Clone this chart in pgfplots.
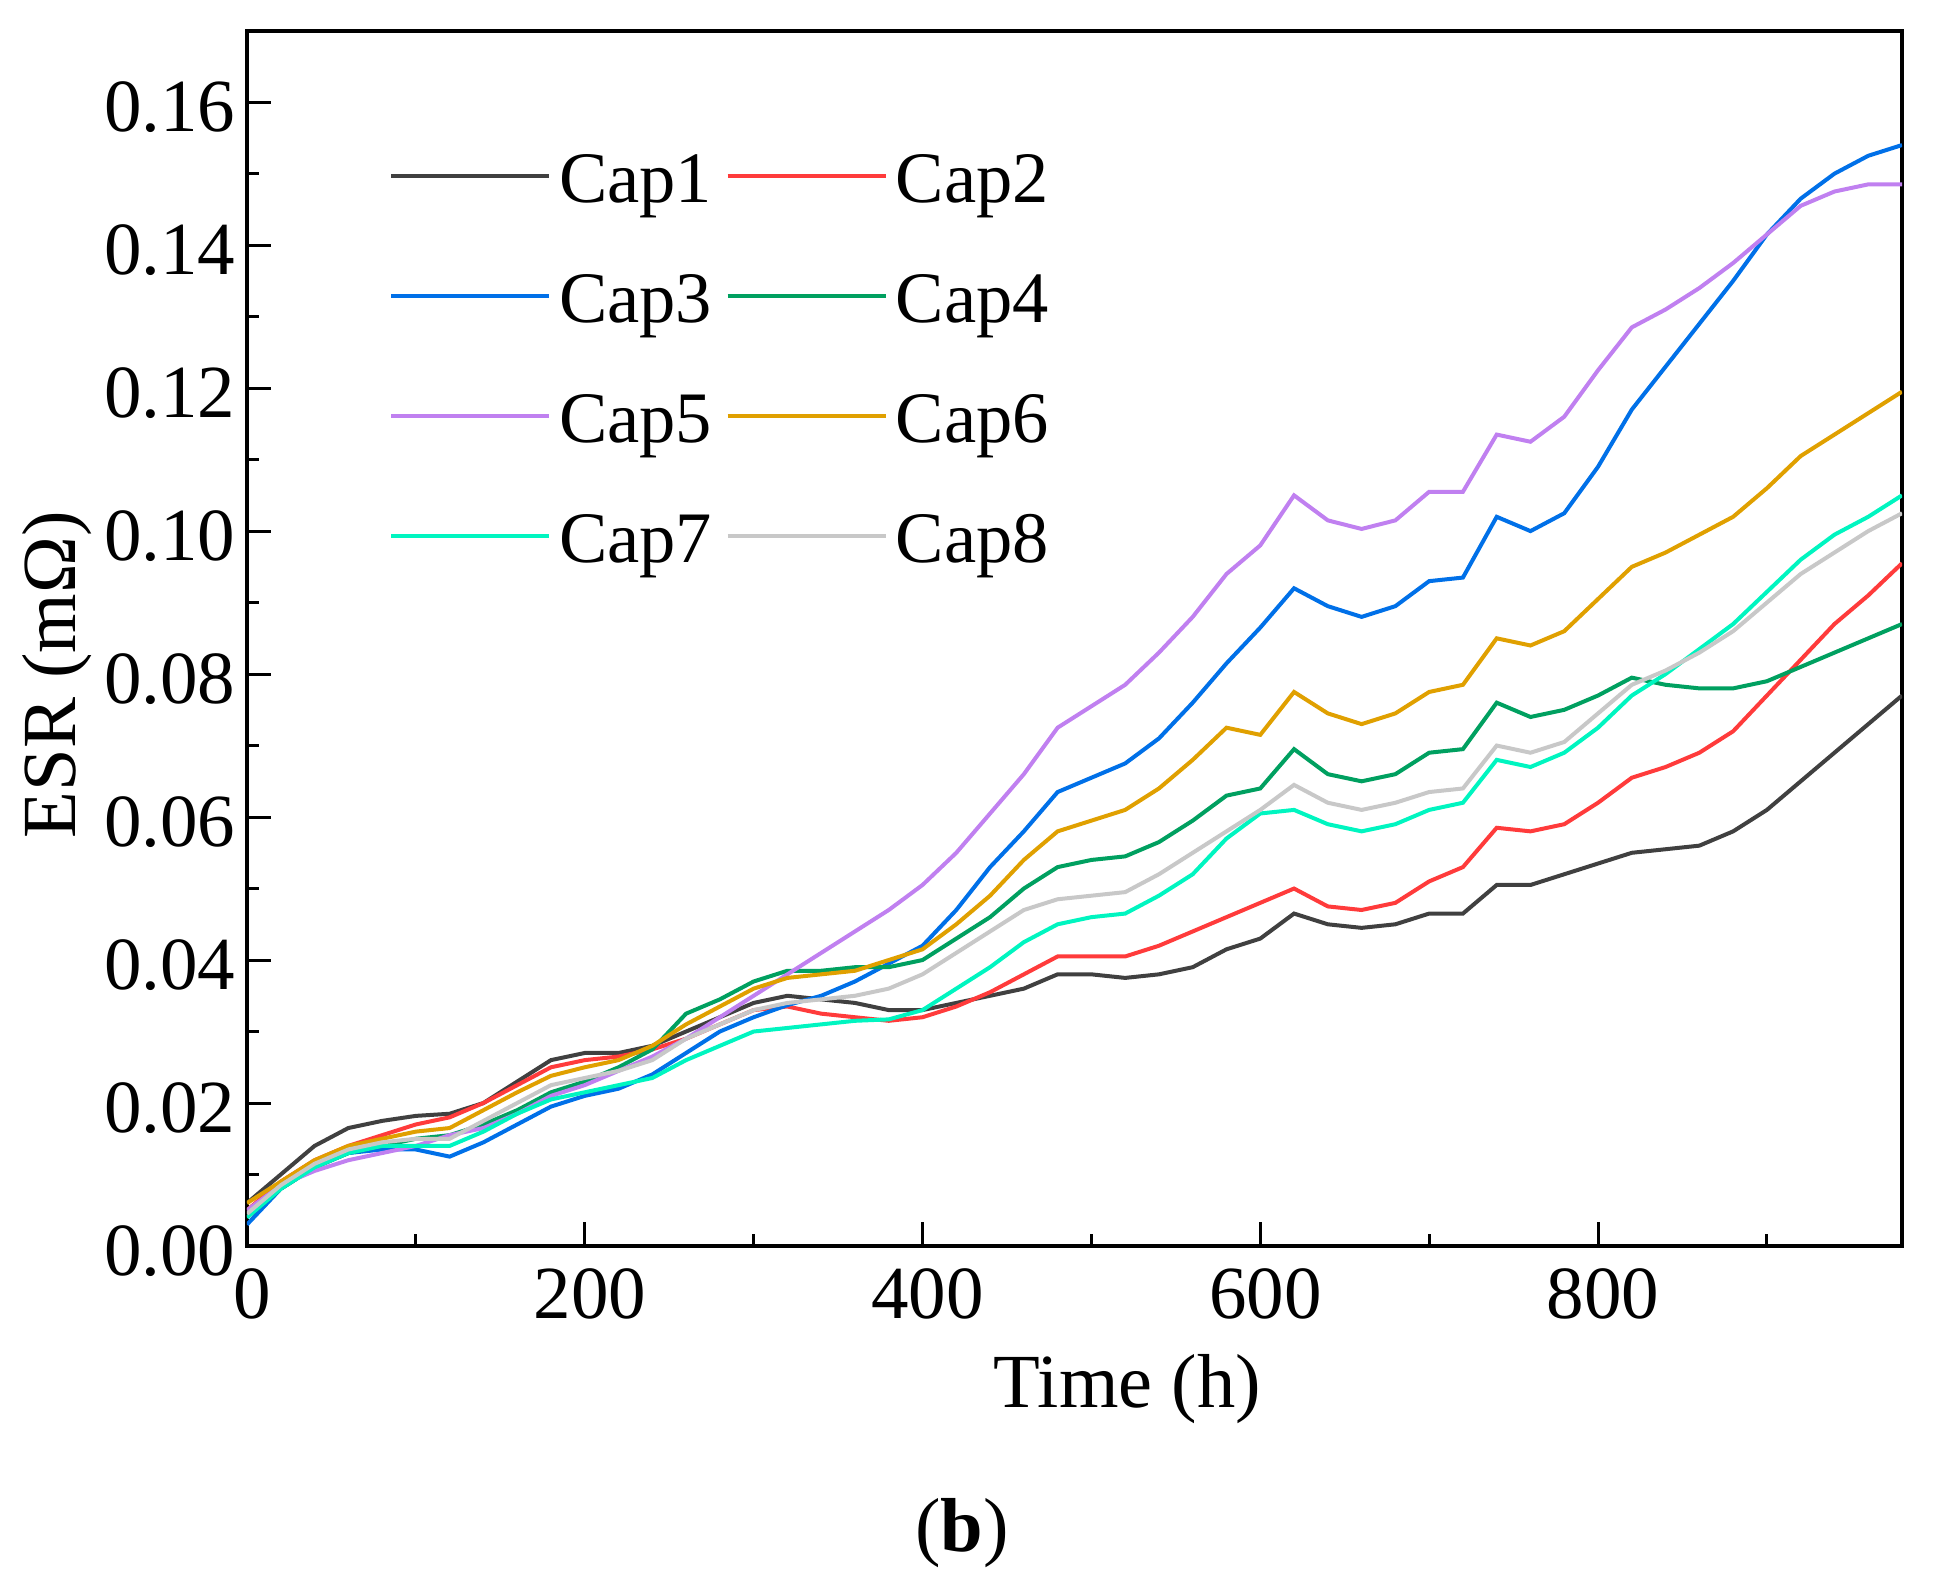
\documentclass[border=0pt]{standalone}
\usepackage{fontspec}
\setmainfont{Liberation Serif}
\usepackage{pgfplots}
\pgfplotsset{compat=1.18}
\definecolor{capA}{HTML}{404040}
\definecolor{capB}{HTML}{FF3B3B}
\definecolor{capC}{HTML}{0070E8}
\definecolor{capD}{HTML}{00A060}
\definecolor{capE}{HTML}{C080F0}
\definecolor{capF}{HTML}{E0A000}
\definecolor{capG}{HTML}{00F5C0}
\definecolor{capH}{HTML}{C8C8C8}
\begin{document}
\begin{tikzpicture}
\begin{axis}[
  scale only axis, width=331pt, height=243.06pt,
  anchor=origin, at={(0,0)},
  xmin=0, xmax=980, ymin=0, ymax=0.17,
  xtick={0,200,400,600,800}, minor xtick={100,300,500,700,900},
  ytick={0,0.02,0.04,0.06,0.08,0.10,0.12,0.14,0.16},
  minor ytick={0.01,0.03,0.05,0.07,0.09,0.11,0.13,0.15},
  tick align=inside, xtick pos=left, ytick pos=left,
  major tick length=4.8pt, minor tick length=2.4pt,
  every tick/.style={black, line width=0.6pt},
  axis line style={line width=0.8pt},
  scaled y ticks=false,
  /pgf/number format/assume math mode=true,
  yticklabel style={/pgf/number format/fixed, /pgf/number format/fixed zerofill, /pgf/number format/precision=2},
  ticklabel style={font=\fontsize{15}{18}\selectfont},
  xticklabel style={yshift=-1pt, xshift=1pt},
  yticklabel style={xshift=1.2pt, yshift=-1pt},
  every axis x label/.style={at={(axis description cs:0.532,0)}, yshift=-32.2pt, anchor=base, font=\fontsize{15.3}{18}\selectfont},
  every axis y label/.style={at={(axis description cs:-0.115,0.47)}, rotate=90, anchor=center, font=\fontsize{15.3}{18}\selectfont},
  xlabel={Time (h)},
  ylabel={ESR (m\symbol{"03A9})},
  legend columns=2,
  legend cell align=left,
  legend style={at={(axis description cs:0.0853,0.9006)}, anchor=north west, draw=none, fill=none, inner sep=0pt,
    font=\fontsize{14.5}{16}\selectfont,
    nodes={inner sep=0pt, text height=10pt, text depth=3pt},
    row sep=11pt,
    /tikz/every even column/.append style={column sep=2.7pt}},
  legend image code/.code={\draw[#1, line width=0.8pt] (0pt,1.8pt) -- (31.6pt,1.8pt); \path (33.2pt,0pt);},
  every axis plot/.append style={line width=0.8pt},
]
\addplot[capA] coordinates {(0,0.006)(20,0.010)(40,0.014)(60,0.0165)(80,0.0175)(100,0.0182)(120,0.0185)(140,0.020)(160,0.023)(180,0.026)(200,0.027)(220,0.027)(240,0.028)(260,0.030)(280,0.032)(300,0.034)(320,0.035)(340,0.0345)(360,0.034)(380,0.033)(400,0.033)(420,0.034)(440,0.035)(460,0.036)(480,0.038)(500,0.038)(520,0.0375)(540,0.038)(560,0.039)(580,0.0415)(600,0.043)(620,0.0465)(640,0.045)(660,0.0445)(680,0.045)(700,0.0465)(720,0.0465)(740,0.0505)(760,0.0505)(780,0.052)(800,0.0535)(820,0.055)(840,0.0555)(860,0.056)(880,0.058)(900,0.061)(920,0.065)(940,0.069)(960,0.073)(980,0.077)};
\addlegendentry{Cap1}
\addplot[capB] coordinates {(0,0.005)(20,0.009)(40,0.012)(60,0.014)(80,0.0155)(100,0.017)(120,0.018)(140,0.020)(160,0.0225)(180,0.025)(200,0.026)(220,0.0265)(240,0.0275)(260,0.029)(280,0.031)(300,0.033)(320,0.0335)(340,0.0325)(360,0.032)(380,0.0315)(400,0.032)(420,0.0335)(440,0.0355)(460,0.038)(480,0.0405)(500,0.0405)(520,0.0405)(540,0.042)(560,0.044)(580,0.046)(600,0.048)(620,0.050)(640,0.0475)(660,0.047)(680,0.048)(700,0.051)(720,0.053)(740,0.0585)(760,0.058)(780,0.059)(800,0.062)(820,0.0655)(840,0.067)(860,0.069)(880,0.072)(900,0.077)(920,0.082)(940,0.087)(960,0.091)(980,0.0955)};
\addlegendentry{Cap2}
\addplot[capC] coordinates {(0,0.003)(20,0.008)(40,0.011)(60,0.013)(80,0.0135)(100,0.0135)(110,0.013)(120,0.0125)(140,0.0145)(160,0.017)(180,0.0195)(200,0.021)(220,0.022)(240,0.024)(260,0.027)(280,0.030)(300,0.032)(320,0.0337)(340,0.035)(360,0.037)(380,0.0395)(400,0.042)(420,0.047)(440,0.053)(460,0.058)(480,0.0635)(500,0.0655)(520,0.0675)(540,0.071)(560,0.076)(580,0.0815)(600,0.0865)(620,0.092)(640,0.0895)(660,0.088)(680,0.0895)(700,0.093)(720,0.0935)(740,0.102)(760,0.100)(780,0.1025)(800,0.109)(820,0.117)(840,0.123)(860,0.129)(880,0.135)(900,0.1415)(920,0.1465)(940,0.150)(960,0.1525)(980,0.154)};
\addlegendentry{Cap3}
\addplot[capD] coordinates {(0,0.004)(20,0.008)(40,0.011)(60,0.013)(80,0.014)(100,0.015)(120,0.0155)(140,0.017)(160,0.019)(180,0.0215)(200,0.023)(220,0.025)(240,0.0275)(260,0.0325)(280,0.0345)(300,0.037)(320,0.0385)(340,0.0385)(360,0.039)(380,0.039)(400,0.040)(420,0.043)(440,0.046)(460,0.050)(480,0.053)(500,0.054)(520,0.0545)(540,0.0565)(560,0.0595)(580,0.063)(600,0.064)(620,0.0695)(640,0.066)(660,0.065)(680,0.066)(700,0.069)(720,0.0695)(740,0.076)(760,0.074)(780,0.075)(800,0.077)(820,0.0795)(840,0.0785)(860,0.078)(880,0.078)(900,0.079)(920,0.081)(940,0.083)(960,0.085)(980,0.087)};
\addlegendentry{Cap4}
\addplot[capE] coordinates {(0,0.005)(20,0.0085)(40,0.0105)(60,0.012)(80,0.013)(100,0.014)(120,0.0155)(140,0.0165)(160,0.0185)(180,0.021)(200,0.0225)(220,0.0245)(240,0.0265)(260,0.029)(280,0.032)(300,0.035)(320,0.038)(340,0.041)(360,0.044)(380,0.047)(400,0.0505)(420,0.055)(440,0.0605)(460,0.066)(480,0.0725)(500,0.0755)(520,0.0785)(540,0.083)(560,0.088)(580,0.094)(600,0.098)(620,0.105)(640,0.1015)(660,0.1003)(680,0.1015)(700,0.1055)(720,0.1055)(740,0.1135)(760,0.1125)(780,0.116)(800,0.1225)(820,0.1285)(840,0.131)(860,0.134)(880,0.1375)(900,0.1415)(920,0.1455)(940,0.1475)(960,0.1485)(980,0.1485)};
\addlegendentry{Cap5}
\addplot[capF] coordinates {(0,0.006)(20,0.009)(40,0.012)(60,0.014)(80,0.015)(100,0.016)(120,0.0165)(140,0.019)(160,0.0215)(180,0.0238)(200,0.025)(220,0.026)(240,0.028)(260,0.031)(280,0.0335)(300,0.036)(320,0.0375)(340,0.038)(360,0.0385)(380,0.040)(400,0.0415)(420,0.045)(440,0.049)(460,0.054)(480,0.058)(500,0.0595)(520,0.061)(540,0.064)(560,0.068)(580,0.0725)(600,0.0715)(620,0.0775)(640,0.0745)(660,0.073)(680,0.0745)(700,0.0775)(720,0.0785)(740,0.085)(760,0.084)(780,0.086)(800,0.0905)(820,0.095)(840,0.097)(860,0.0995)(880,0.102)(900,0.106)(920,0.1105)(940,0.1135)(960,0.1165)(980,0.1195)};
\addlegendentry{Cap6}
\addplot[capG] coordinates {(0,0.004)(20,0.008)(40,0.011)(60,0.013)(80,0.014)(100,0.014)(120,0.014)(140,0.016)(160,0.0185)(180,0.0205)(200,0.0215)(220,0.0225)(240,0.0235)(260,0.026)(280,0.028)(300,0.030)(320,0.0305)(340,0.031)(360,0.0315)(380,0.0317)(400,0.033)(420,0.036)(440,0.039)(460,0.0425)(480,0.045)(500,0.046)(520,0.0465)(540,0.049)(560,0.052)(580,0.057)(600,0.0605)(620,0.061)(640,0.059)(660,0.058)(680,0.059)(700,0.061)(720,0.062)(740,0.068)(760,0.067)(780,0.069)(800,0.0725)(820,0.077)(840,0.080)(860,0.0835)(880,0.087)(900,0.0915)(920,0.096)(940,0.0995)(960,0.102)(980,0.105)};
\addlegendentry{Cap7}
\addplot[capH] coordinates {(0,0.0045)(20,0.0085)(40,0.0115)(60,0.0135)(80,0.0145)(100,0.015)(120,0.015)(140,0.0175)(160,0.020)(180,0.0225)(200,0.0235)(220,0.0245)(240,0.026)(260,0.029)(280,0.031)(300,0.033)(320,0.034)(340,0.0345)(360,0.035)(380,0.036)(400,0.038)(420,0.041)(440,0.044)(460,0.047)(480,0.0485)(500,0.049)(520,0.0495)(540,0.052)(560,0.055)(580,0.058)(600,0.061)(620,0.0645)(640,0.062)(660,0.061)(680,0.062)(700,0.0635)(720,0.064)(740,0.070)(760,0.069)(780,0.0705)(800,0.0745)(820,0.0785)(840,0.0805)(860,0.083)(880,0.086)(900,0.090)(920,0.094)(940,0.097)(960,0.100)(980,0.1025)};
\addlegendentry{Cap8}
\end{axis}
\node[anchor=base, font=\fontsize{15.3}{18}\selectfont] at (143pt,-61pt) {(\textbf{b})};
\pgfresetboundingbox
\path[use as bounding box] (-49.4pt,-68.4pt) rectangle (338pt,249.2pt);
\end{tikzpicture}
\end{document}
